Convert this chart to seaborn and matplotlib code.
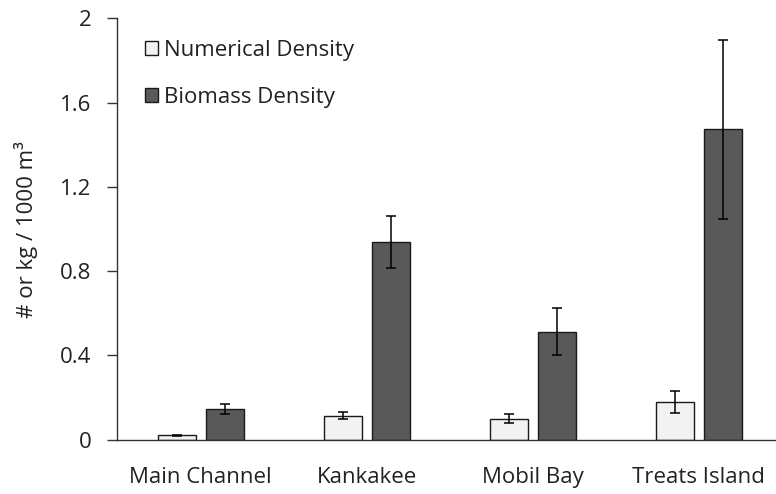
import numpy as np
import pandas as pd
import matplotlib.pyplot as plt
import seaborn as sns

sites = ['Main Channel', 'Kankakee', 'Mobil Bay', 'Treats Island']
numerical = [0.02, 0.113, 0.10, 0.179]
numerical_err = [0.004, 0.016, 0.02, 0.053]
biomass = [0.145, 0.938, 0.513, 1.473]
biomass_err = [0.025, 0.125, 0.113, 0.425]
series = ['Numerical Density', 'Biomass Density']
yticks = [0, 0.4, 0.8, 1.2, 1.6, 2]
ytick_labels = ['0', '0.4', '0.8', '1.2', '1.6', '2']

sns.set_style('white')
plt.rcParams['font.family'] = ['Open Sans', 'DejaVu Sans']
text_color = '#222222'
fs = 16

df = pd.DataFrame({
    'site': sites * 2,
    'value': numerical + biomass,
    'series': [series[0]] * len(sites) + [series[1]] * len(sites),
})

fig = plt.figure(figsize=(7.76, 4.94), dpi=100)
ax = fig.add_axes([0.1508, 0.110, 0.8492, 0.8526])

sns.barplot(data=df, x='site', y='value', hue='series', hue_order=series,
            palette=['#F2F2F2', '#595959'], width=0.578, gap=0.208,
            edgecolor='#1a1a1a', linewidth=1.0, errorbar=None, ax=ax)

# error bars from the bar geometry
for cont, errs in zip(ax.containers, [numerical_err, biomass_err]):
    xs = [b.get_x() + b.get_width() / 2 for b in cont]
    hs = [b.get_height() for b in cont]
    ax.errorbar(xs, hs, yerr=errs, fmt='none', ecolor='black',
                elinewidth=1.1, capsize=3.6, capthick=1.1, zorder=5)

ax.set_xlim(-0.504, 3.466)
ax.set_ylim(0, 2)
ax.set_yticks(yticks)
ax.set_yticklabels(ytick_labels)
ax.set_xlabel('')
ax.set_ylabel('# or kg / 1000 m³', fontsize=fs, color=text_color, labelpad=16)
ax.tick_params(axis='y', which='both', left=True, length=7.5, width=1,
               color='#333333', labelsize=fs, labelcolor=text_color, pad=11)
ax.tick_params(axis='x', bottom=False, labelsize=fs, labelcolor=text_color, pad=16)

sns.despine(ax=ax, top=True, right=True)
ax.spines['left'].set_color('#333333')
ax.spines['bottom'].set_color('#333333')
ax.spines['left'].set_linewidth(1)
ax.spines['bottom'].set_linewidth(1)

handles, labels = ax.get_legend_handles_labels()
ax.legend(handles, labels, loc='upper left', bbox_to_anchor=(0.042, 0.95),
          frameon=False, fontsize=fs, handlelength=0.6, handleheight=0.6,
          handletextpad=0.25, labelspacing=1.2, borderpad=0, borderaxespad=0,
          labelcolor=text_color)

fig.savefig('out.png', dpi=100)
